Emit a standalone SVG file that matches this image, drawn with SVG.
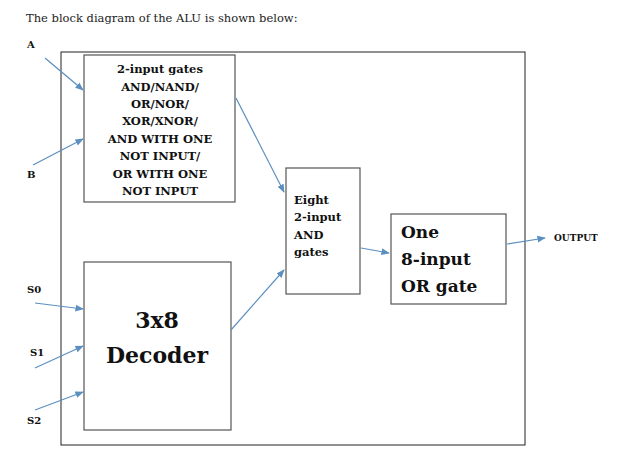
<svg xmlns="http://www.w3.org/2000/svg" width="626" height="453" viewBox="0 0 626 453">
<defs>
<style>
.b{fill:#fff;stroke:#555;stroke-width:1.2}
.t{font-family:"DejaVu Serif","Liberation Serif",serif;font-weight:bold;fill:#111}
.c line{stroke:#5b8fc0;stroke-width:1.2;marker-end:url(#ah)}
</style>
<marker id="ah" viewBox="0 0 10 10" refX="9" refY="5" markerWidth="7" markerHeight="7" orient="auto"><path d="M0,1 L10,5 L0,9 z" fill="#5b8fc0"/></marker>
</defs>
<rect width="626" height="453" fill="#fff"/>
<text x="26" y="22" font-family="DejaVu Serif,serif" font-size="11.5" fill="#222">The block diagram of the ALU is shown below:</text>
<g class="t" font-size="10">
<text x="27" y="48">A</text><text x="27" y="178">B</text><text x="27" y="293">S0</text><text x="30" y="356">S1</text><text x="27" y="424">S2</text>
<text x="554" y="241" font-size="9">OUTPUT</text>
</g>
<rect id="outer" x="61" y="52" width="464" height="393" fill="none" stroke="#222" stroke-width="1"/>
<g id="gates"><rect class="b" x="84" y="55" width="151" height="147"/>
<text class="t" font-size="11.5" text-anchor="middle" x="160"><tspan x="160" y="73">2-input gates</tspan><tspan x="160" y="91">AND/NAND/</tspan><tspan x="160" y="108">OR/NOR/</tspan><tspan x="160" y="125">XOR/XNOR/</tspan><tspan x="160" y="143">AND WITH ONE</tspan><tspan x="160" y="160">NOT INPUT/</tspan><tspan x="160" y="178">OR WITH ONE</tspan><tspan x="160" y="195">NOT INPUT</tspan></text></g>
<g id="and8"><rect class="b" x="286" y="168" width="74" height="126"/>
<text class="t" font-size="11.5"><tspan x="294" y="204">Eight</tspan><tspan x="294" y="221">2-input</tspan><tspan x="294" y="239">AND</tspan><tspan x="294" y="256">gates</tspan></text></g>
<g id="or8"><rect class="b" x="391" y="214" width="115" height="90"/>
<text class="t" font-size="17"><tspan x="401" y="238">One</tspan><tspan x="401" y="265">8-input</tspan><tspan x="401" y="292">OR gate</tspan></text></g>
<g id="dec"><rect class="b" x="84" y="262" width="147" height="168"/>
<text class="t" font-size="22" text-anchor="middle"><tspan x="157" y="328">3x8</tspan><tspan x="157" y="363">Decoder</tspan></text></g>
<g class="c">
<line x1="45" y1="58" x2="83" y2="90"/>
<line x1="33" y1="165" x2="83" y2="139"/>
<line x1="236" y1="98" x2="284" y2="192"/>
<line x1="231" y1="330" x2="284" y2="270"/>
<line x1="361" y1="248" x2="389" y2="253"/>
<line x1="507" y1="244" x2="545" y2="238"/>
<line x1="35" y1="303" x2="83" y2="309"/>
<line x1="35" y1="368" x2="83" y2="346"/>
<line x1="35" y1="410" x2="83" y2="392"/>
</g>
</svg>
